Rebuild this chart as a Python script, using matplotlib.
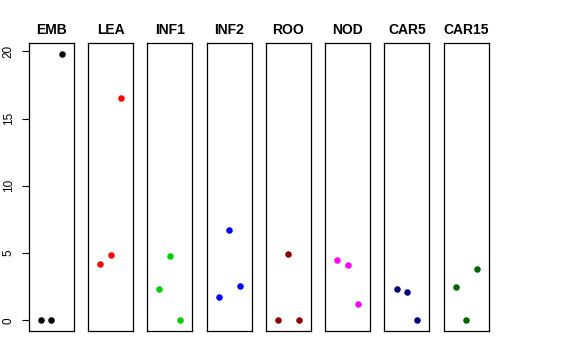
import matplotlib
matplotlib.use("Agg")
import matplotlib.pyplot as plt

plt.rcParams['font.family'] = ['Liberation Sans', 'DejaVu Sans']

groups = ["EMB", "LEA", "INF1", "INF2", "ROO", "NOD", "CAR5", "CAR15"]
colors = ["black", "red", "#00CD00", "blue", "#8B0000", "magenta", "#000080", "#006400"]
positions = [1, 2, 3]
values = [
    [0.0, 0.0, 19.8],
    [4.2, 4.85, 16.5],
    [2.3, 4.8, 0.0],
    [1.75, 6.7, 2.55],
    [0.0, 4.9, 0.0],
    [4.45, 4.1, 1.2],
    [2.35, 2.1, 0.0],
    [2.5, 0.0, 3.8],
]
yticks = [0, 5, 10, 15, 20]

W, H = 576, 360
fig = plt.figure(figsize=(W / 100, H / 100), dpi=100)

left0, step, pw = 28.7, 59.3, 45.0
top, bottom = 43.3, 331.0
ymin = min(min(v) for v in values)
ymax = max(max(v) for v in values)
pad = 0.04 * (ymax - ymin)

for i, (name, col, vals) in enumerate(zip(groups, colors, values)):
    x0 = left0 + i * step
    ax = fig.add_axes([x0 / W, 1 - bottom / H, pw / W, (bottom - top) / H])
    ax.scatter(positions, vals, s=22, color=col, zorder=3, linewidths=0)
    ax.set_xlim(-0.16, 4.16)
    ax.set_ylim(ymin - pad, ymax + pad)
    ax.set_xticks([])
    for sp in ax.spines.values():
        sp.set_linewidth(0.9)
        sp.set_color("black")
    ax.set_title(name, fontsize=10, fontweight="bold", pad=7)
    if i == 0:
        ax.set_yticks(yticks)
        ax.set_yticklabels([str(t) for t in yticks], rotation=90, va="center", fontsize=8.5)
        ax.tick_params(axis="y", length=5, width=0.8, pad=5)
    else:
        ax.set_yticks([])

fig.savefig("out.png", dpi=100)
